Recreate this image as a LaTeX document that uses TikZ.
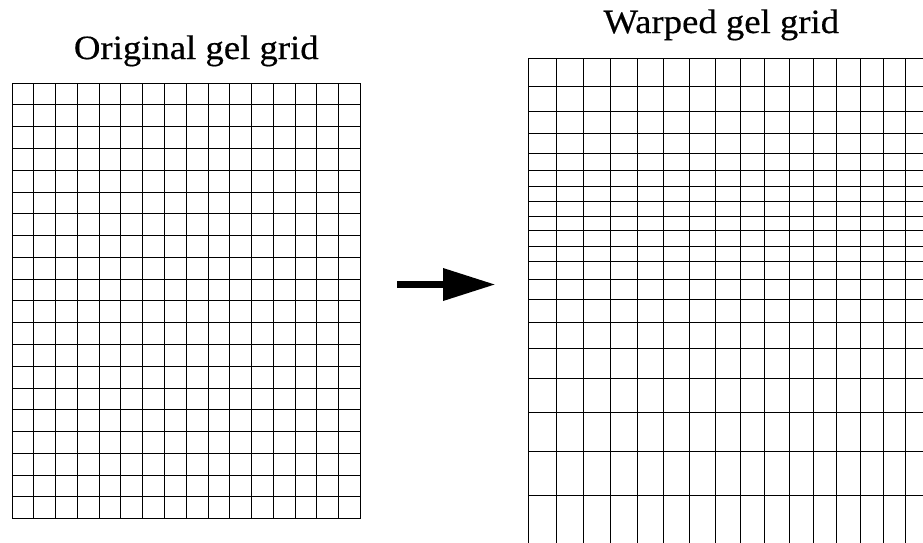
\documentclass[tikz,border=0pt]{standalone}
\usepackage{fontspec}
\newfontfamily\titlefont[FakeStretch=1.08,FakeBold=0.4]{Liberation Serif}
\usetikzlibrary{arrows.meta}
\tikzset{gridline/.style={line width=0.8pt,black},
	titletext/.style={anchor=base,inner sep=0pt,font=\titlefont\fontsize{34}{40}\selectfont}}
\begin{document}
\begin{tikzpicture}[x=1pt,y=-1pt,line cap=butt]
	\useasboundingbox (0,0) rectangle (923,542);
	\node[titletext] (origtitle) at (196.3,59) {Original gel grid};
	\node[titletext] (warptitle) at (721.3,33) {Warped gel grid};
	% original grid: 16 x 20 square cells
	\foreach \i in {0,...,16}
		\draw[gridline] ({12+\i*21.77},83)--({12+\i*21.77},518.7);
	\foreach \j in {0,...,20}
		\draw[gridline] (12,{83+\j*21.78})--(360.3,{83+\j*21.78});
	% warped grid, cut at the page edge
	\begin{scope}
		\clip (0,0) rectangle (923,542);
		\foreach \x in {528.7,556.3,583.7,610.7,637.3,663.7,689.3,715,740,764.7,789.3,813.3,836.7,860.3,883,905.5,927}
			\draw[gridline] (\x,58)--(\x,560);
		\foreach \y in {58,86.7,111.7,133.7,153.3,170.7,186.3,201.7,216,230.3,246,261.7,279.7,299.7,322.7,348.7,378,412.3,451,495,545}
			\draw[gridline] (528.7,\y)--(940,\y);
	\end{scope}
	\coordinate (arrowfrom) at (397.3,284.5);
	\coordinate (arrowto) at (495.7,284.5);
	\draw[line width=7.7pt,-{Triangle[length=52.7pt,width=30.7pt]}] (arrowfrom)--(arrowto);
\end{tikzpicture}
\end{document}
